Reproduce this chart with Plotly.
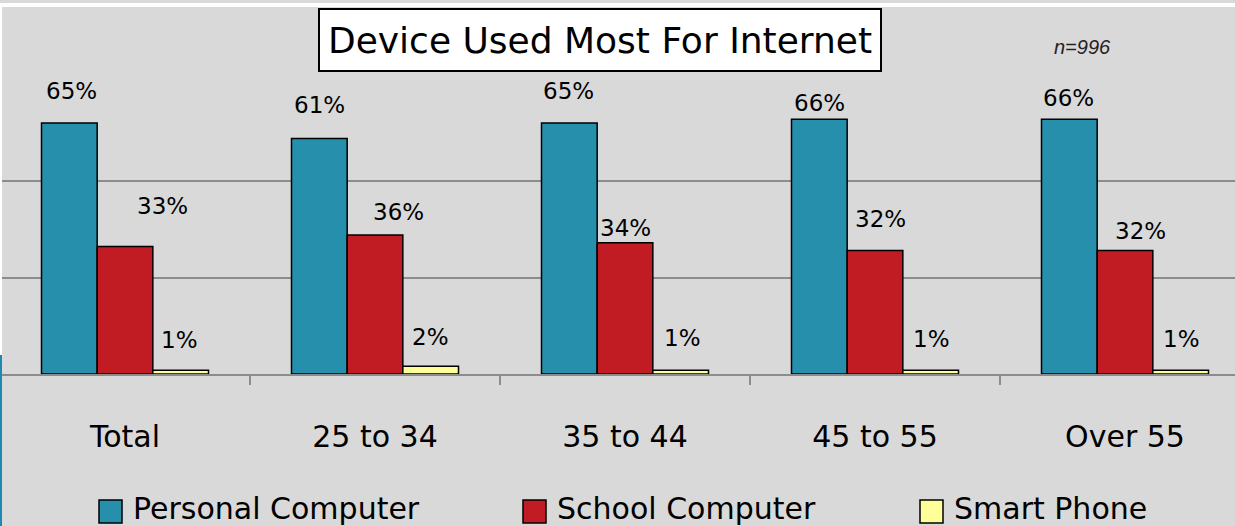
import plotly.graph_objects as go

# Survey data: share of respondents by device used most for internet
categories = ["Total", "25 to 34", "35 to 44", "45 to 55", "Over 55"]
series_names = ["Personal Computer", "School Computer", "Smart Phone"]
personal_computer = [65, 61, 65, 66, 66]
school_computer = [33, 36, 34, 32, 32]
smart_phone = [1, 2, 1, 1, 1]
title_text = "Device Used Most For Internet"
sample_note = "n=996"

series_values = [personal_computer, school_computer, smart_phone]
colors = ["#268FAC", "#C11B24", "#FFFF99"]

# pixel nudges for value labels (x shift, gap above bar top)
label_dx = [
    [2, 0, -1, 0, -1],
    [37, 23, 0, 5, 15],
    [-1, 0, 2, 1, 1],
]
label_gap = [
    [32, 34, 32, 16, 21],
    [41, 23, 15, 31, 19],
    [30, 29, 32, 31, 31],
]

W, H = 1235, 526
PLOT_TOP, PLOT_BOTTOM = 7, 374
FONT = "DejaVu Sans"

fig = go.Figure()
for name, vals, col in zip(series_names, series_values, colors):
    fig.add_trace(go.Bar(
        x=categories, y=vals, name=name,
        marker=dict(color=col, line=dict(color="black", width=1.5)),
        showlegend=False, hoverinfo="x+y+name",
    ))

# bar geometry in category units
bargap = 0.332
bar_w = (1 - bargap) / 3
annotations = []
for s, vals in enumerate(series_values):
    for i, v in enumerate(vals):
        annotations.append(dict(
            x=i + (s - 1) * bar_w, y=v, xref="x", yref="y",
            text=f"{v}%", showarrow=False,
            xshift=label_dx[s][i], yshift=label_gap[s][i],
            yanchor="middle", xanchor="center",
            font=dict(family=FONT, size=23, color="black"),
        ))

def py(pix):
    # convert a pixel row to paper y
    return (PLOT_BOTTOM - pix) / (PLOT_BOTTOM - PLOT_TOP)

def px(pix):
    return pix / W

# title box
annotations.append(dict(
    x=px(600), y=py(40), xref="paper", yref="paper",
    text=title_text, showarrow=False, xanchor="center", yanchor="middle",
    font=dict(family=FONT, size=36, color="black"),
    bgcolor="white", bordercolor="black", borderwidth=2, borderpad=0,
    width=560, height=60,
))
# sample size note
annotations.append(dict(
    x=px(1082), y=py(47), xref="paper", yref="paper",
    text=f"<i>{sample_note}</i>", showarrow=False,
    xanchor="center", yanchor="middle",
    font=dict(family="Liberation Sans", size=20, color="#222"),
))

# legend drawn as swatches + labels
shapes = []
legend_x = [99, 523, 920]
for lx, name, col in zip(legend_x, series_names, colors):
    shapes.append(dict(
        type="rect", xref="paper", yref="paper",
        x0=px(lx), x1=px(lx + 23), y0=py(523), y1=py(500),
        fillcolor=col, line=dict(color="black", width=1.5), layer="above",
    ))
    annotations.append(dict(
        x=px(lx + 32), y=py(508), xref="paper", yref="paper",
        text=name, showarrow=False, xanchor="left", yanchor="middle",
        font=dict(family=FONT, size=30, color="black"),
    ))

# thin frame edges
shapes.append(dict(type="rect", xref="paper", yref="paper",
                   x0=0, x1=1, y0=py(7), y1=py(3),
                   fillcolor="white", line=dict(width=0), layer="above"))
shapes.append(dict(type="rect", xref="paper", yref="paper",
                   x0=0, x1=px(2), y0=py(355), y1=py(7),
                   fillcolor="white", line=dict(width=0), layer="above"))
shapes.append(dict(type="rect", xref="paper", yref="paper",
                   x0=0, x1=px(2), y0=py(526), y1=py(355),
                   fillcolor="#1E88B0", line=dict(width=0), layer="above"))

fig.update_layout(
    width=W, height=H,
    margin=dict(l=0, r=0, t=PLOT_TOP, b=H - PLOT_BOTTOM, pad=0),
    paper_bgcolor="#D9D9D9", plot_bgcolor="#D9D9D9",
    barmode="group", bargap=bargap, bargroupgap=0,
    annotations=annotations, shapes=shapes,
    xaxis=dict(
        range=[-0.5, -0.5 + W / 250], tickson="boundaries",
        ticks="outside", ticklen=9, tickwidth=2, tickcolor="#8C8C8C",
        showline=True, linecolor="#8C8C8C", linewidth=2,
        showgrid=False, ticklabelstandoff=35,
        tickfont=dict(family=FONT, size=30, color="black"),
    ),
    yaxis=dict(
        range=[0, (PLOT_BOTTOM - PLOT_TOP) / 3.86],
        tickvals=[25, 50], showticklabels=False,
        showgrid=True, gridcolor="#8C8C8C", gridwidth=2,
        zeroline=False, showline=False,
    ),
)

fig.write_html("out.html")
